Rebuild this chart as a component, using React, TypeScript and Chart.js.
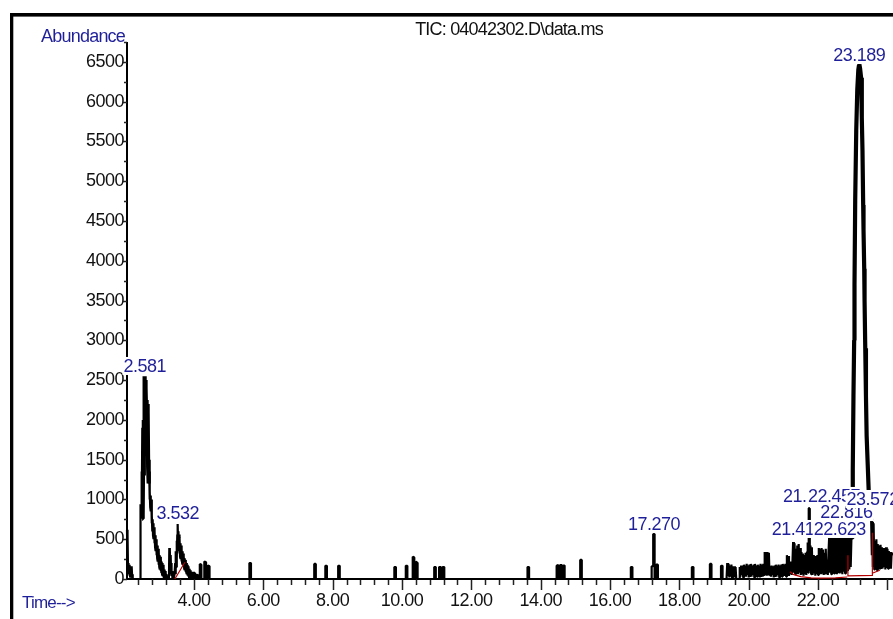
import { useEffect, useRef } from "react";
import { Chart, registerables } from "chart.js";

Chart.register(...registerables);

// ---------------- data ----------------
const titleText = "TIC: 04042302.D\\data.ms";
const yAxisTitle = "Abundance";
const xAxisTitle = "Time-->";

const xMin = 2.07;
const xMax = 24.16;
const yMax = 6750;
const xTickValues = [4, 6, 8, 10, 12, 14, 16, 18, 20, 22];
const yTickValues = [0, 500, 1000, 1500, 2000, 2500, 3000, 3500, 4000, 4500, 5000, 5500, 6000, 6500];
const xMinorStep = 0.4;
const yMinorStep = 250;

// total ion chromatogram [time (min), abundance]
const ticTrace: [number, number][] = [
  // solvent front
  [2.07, 620], [2.075, 150], [2.08, 600], [2.09, 180], [2.095, 560], [2.1, 120], [2.11, 200], [2.12, 60],
  [2.13, 180], [2.14, 40], [2.15, 170], [2.16, 30], [2.17, 150], [2.18, 20], [2.19, 160], [2.2, 30],
  [2.21, 150], [2.22, 20], [2.23, 60], [2.24, 0],
  // peak 2.581
  [2.45, 0], [2.455, 940], [2.465, 760], [2.475, 920], [2.485, 780], [2.495, 900], [2.505, 760], [2.515, 880],
  [2.52, 1350], [2.53, 800], [2.54, 1900], [2.55, 1300], [2.56, 2000], [2.567, 1600], [2.575, 2550], [2.582, 2300],
  [2.59, 2500], [2.6, 2200], [2.61, 2400], [2.62, 2100], [2.63, 2250], [2.64, 1950], [2.65, 2200], [2.66, 1900],
  [2.67, 2100], [2.68, 1400], [2.69, 1500], [2.7, 1200], [2.71, 1350], [2.72, 1000], [2.73, 1100], [2.74, 900],
  [2.75, 1050], [2.76, 850], [2.77, 1000], [2.78, 700], [2.79, 800], [2.8, 600], [2.81, 750], [2.82, 550],
  [2.83, 700], [2.84, 500], [2.85, 650], [2.86, 450], [2.87, 600], [2.88, 400], [2.89, 550], [2.9, 350],
  [2.91, 500], [2.92, 300], [2.93, 450], [2.94, 260], [2.95, 420], [2.96, 220], [2.97, 380], [2.98, 180],
  [2.99, 340], [3.0, 150], [3.01, 300], [3.02, 120], [3.03, 280], [3.04, 100], [3.05, 250], [3.06, 80],
  [3.07, 220], [3.08, 60], [3.09, 200], [3.1, 40], [3.11, 180], [3.12, 20], [3.13, 150], [3.14, 0],
  [3.15, 120], [3.16, 0], [3.17, 100], [3.18, 0], [3.19, 80], [3.2, 0], [3.21, 60], [3.22, 0], [3.23, 40], [3.24, 0],
  [3.28, 0], [3.29, 390], [3.3, 150], [3.31, 360], [3.32, 120], [3.33, 300], [3.34, 80], [3.35, 200], [3.36, 40],
  [3.37, 100], [3.38, 0], [3.42, 0],
  // peak 3.532
  [3.44, 60], [3.46, 200], [3.47, 60], [3.48, 350], [3.49, 150], [3.5, 480], [3.51, 250], [3.52, 560],
  [3.527, 350], [3.535, 690], [3.545, 400], [3.55, 600], [3.56, 350], [3.57, 560], [3.58, 320], [3.59, 520],
  [3.6, 280], [3.61, 450], [3.62, 250], [3.63, 420], [3.64, 220], [3.65, 380], [3.66, 200], [3.67, 350],
  [3.68, 180], [3.69, 320], [3.7, 150], [3.71, 290], [3.72, 130], [3.73, 260], [3.74, 110], [3.75, 240],
  [3.76, 90], [3.77, 220], [3.78, 80], [3.79, 200], [3.8, 60], [3.81, 180], [3.82, 40], [3.83, 160],
  [3.84, 30], [3.85, 150], [3.86, 20], [3.87, 130], [3.88, 0], [3.89, 110], [3.9, 0], [3.91, 100], [3.92, 0],
  [3.93, 90], [3.94, 0], [3.97, 30], [3.99, 90], [4.0, 0], [4.03, 80], [4.05, 0], [4.1, 60], [4.13, 0],
  // small spikes
  [4.17, 0], [4.17, 190], [4.215, 180], [4.215, 0], [4.3, 0], [4.3, 220], [4.35, 210], [4.35, 0],
  [4.4, 0], [4.4, 170], [4.45, 160], [4.45, 0],
  [5.6, 0], [5.6, 200], [5.645, 200], [5.645, 0],
  [7.47, 0], [7.47, 190], [7.515, 190], [7.515, 0],
  [7.79, 0], [7.79, 165], [7.835, 165], [7.835, 0],
  [8.16, 0], [8.16, 165], [8.205, 165], [8.205, 0],
  [9.78, 0], [9.78, 150], [9.825, 150], [9.825, 0],
  [10.11, 0], [10.11, 165], [10.155, 165], [10.155, 0],
  [10.31, 0], [10.31, 280], [10.355, 270], [10.355, 0], [10.4, 0], [10.4, 220], [10.45, 200], [10.45, 0],
  [10.93, 0], [10.93, 150], [10.975, 150], [10.975, 0],
  [11.07, 0], [11.07, 150], [11.12, 150], [11.12, 0], [11.17, 0], [11.17, 150], [11.22, 150], [11.22, 0],
  [13.62, 0], [13.62, 150], [13.665, 150], [13.665, 0],
  [14.46, 0], [14.46, 165], [14.51, 175], [14.51, 0], [14.56, 0], [14.56, 175], [14.61, 175], [14.61, 0],
  [14.65, 0], [14.65, 170], [14.69, 170], [14.69, 0],
  [15.14, 0], [15.14, 240], [15.185, 240], [15.185, 0],
  [16.6, 0], [16.6, 150], [16.645, 150], [16.645, 0],
  // peak 17.270
  [17.2, 0], [17.2, 160], [17.245, 160], [17.245, 565], [17.285, 565], [17.285, 0], [17.33, 0], [17.33, 180],
  [17.38, 180], [17.38, 0],
  [18.36, 0], [18.36, 150], [18.405, 150], [18.405, 0],
  [18.88, 0], [18.88, 190], [18.925, 190], [18.925, 0],
  [19.2, 0], [19.2, 165], [19.245, 165], [19.245, 0],
  // dense late region
  [19.36, 0], [19.38, 200], [19.4, 40], [19.42, 190], [19.44, 20], [19.46, 170], [19.48, 30], [19.5, 180],
  [19.52, 10], [19.54, 160], [19.56, 40], [19.58, 160], [19.6, 20], [19.62, 150], [19.64, 0], [19.72, 0],
  [19.74, 150], [19.76, 30], [19.78, 170], [19.8, 50], [19.82, 160], [19.84, 20], [19.86, 180], [19.88, 40],
  [19.9, 170], [19.92, 30], [19.94, 190], [19.96, 50], [19.98, 170], [20.0, 20], [20.02, 180], [20.04, 40],
  [20.06, 190], [20.08, 30], [20.1, 170], [20.12, 50], [20.14, 180], [20.16, 20], [20.18, 190], [20.2, 40],
  [20.22, 170], [20.24, 30], [20.26, 180], [20.28, 50], [20.3, 170], [20.32, 20], [20.34, 190], [20.36, 40],
  [20.38, 180], [20.4, 30], [20.42, 190], [20.44, 50], [20.46, 340], [20.48, 60], [20.5, 340], [20.52, 40],
  [20.54, 340], [20.56, 60], [20.58, 330], [20.6, 40], [20.62, 160], [20.64, 30], [20.66, 170], [20.68, 50],
  [20.7, 160], [20.72, 20], [20.74, 170], [20.76, 40], [20.78, 180], [20.8, 30], [20.82, 170], [20.84, 50],
  [20.86, 180], [20.88, 20], [20.9, 170], [20.92, 40], [20.94, 180], [20.96, 30], [20.98, 190], [21.0, 50],
  [21.02, 180], [21.04, 40], [21.06, 190], [21.08, 30], [21.1, 300], [21.12, 60], [21.14, 290], [21.16, 40],
  [21.18, 200], [21.2, 60], [21.22, 220], [21.24, 50], [21.26, 200], [21.28, 465], [21.3, 80], [21.32, 450],
  [21.34, 60], [21.36, 380], [21.38, 70], [21.4, 420], [21.42, 60], [21.44, 440], [21.46, 80], [21.48, 390],
  [21.5, 50], [21.52, 340], [21.54, 70], [21.56, 320], [21.58, 40], [21.6, 300], [21.62, 60], [21.64, 330],
  [21.66, 50], [21.68, 340], [21.7, 460], [21.72, 80], [21.73, 890], [21.75, 890], [21.76, 100], [21.78, 420],
  [21.8, 60], [21.82, 400], [21.84, 50], [21.86, 300], [21.88, 70], [21.9, 280], [21.92, 40], [21.94, 290],
  [21.96, 60], [21.98, 300], [22.0, 50], [22.02, 390], [22.04, 70], [22.06, 380], [22.08, 60], [22.1, 390],
  [22.12, 80], [22.14, 370], [22.16, 50], [22.18, 330], [22.2, 70], [22.22, 380], [22.24, 60], [22.26, 240],
  [22.28, 50], [22.3, 330], [22.32, 530], [22.34, 80], [22.36, 520], [22.38, 60], [22.4, 530], [22.42, 90],
  [22.44, 560], [22.46, 70], [22.48, 520], [22.5, 80], [22.52, 540], [22.54, 60], [22.56, 530], [22.58, 90],
  [22.6, 520], [22.62, 70], [22.64, 540], [22.66, 80], [22.68, 520], [22.7, 60], [22.72, 540], [22.74, 90],
  [22.76, 530], [22.78, 70], [22.8, 560], [22.82, 80], [22.84, 540], [22.86, 100], [22.88, 540], [22.9, 120],
  [22.92, 550], [22.94, 150], [22.96, 500],
  // main peak 23.189
  [22.99, 520], [23.0, 1370], [23.02, 2300], [23.04, 3000], [23.05, 3700], [23.07, 4760], [23.1, 5640],
  [23.13, 6150], [23.16, 6400], [23.18, 6460], [23.19, 6470], [23.21, 6420], [23.24, 6300], [23.26, 5800],
  [23.28, 5390], [23.3, 4700], [23.31, 4390], [23.33, 3900], [23.34, 3500], [23.36, 2900], [23.38, 2300],
  [23.4, 1800], [23.43, 1450], [23.46, 1100], [23.5, 850], [23.53, 740], [23.55, 300],
  // tail
  [23.565, 720], [23.58, 150], [23.6, 700], [23.62, 120], [23.64, 480], [23.66, 130], [23.68, 500],
  [23.7, 110], [23.72, 440], [23.74, 140], [23.76, 420], [23.78, 120], [23.8, 430], [23.82, 140], [23.84, 400],
  [23.86, 130], [23.88, 390], [23.9, 150], [23.92, 380], [23.94, 120], [23.96, 400], [23.98, 140], [24.0, 380],
  [24.02, 130], [24.04, 350], [24.06, 150], [24.08, 340], [24.1, 130], [24.12, 330], [24.16, 300],
];

// time windows drawn with a heavier stroke (noisy peak bodies)
const heavyWindows: [number, number][] = [[2.5, 2.7], [22.98, 23.54]];

// integration baselines (red)
const baseline1: [number, number][] = [[3.45, 0], [3.74, 210]];
const baseline2: [number, number][] = [[21.19, 90], [21.3, 55], [21.5, 30], [21.8, 15], [22.1, 12], [22.5, 15], [22.84, 25]];
const baseline3: [number, number][] = [[22.86, 300], [22.86, 40], [23.565, 45], [23.565, 580]];
const baseline4: [number, number][] = [[23.58, 75], [23.78, 110]];

// peak labels: text, retention time, anchor abundance (drawing order matters)
const peakLabels: { text: string; t: number; v: number }[] = [
  { text: "2.581", t: 2.581, v: 2552 },
  { text: "3.532", t: 3.532, v: 700 },
  { text: "17.270", t: 17.27, v: 565 },
  { text: "23.189", t: 23.189, v: 6461 },
  { text: "21.741", t: 21.741, v: 918 },
  { text: "22.457", t: 22.457, v: 918 },
  { text: "22.816", t: 22.816, v: 716 },
  { text: "23.572", t: 23.572, v: 880 },
  { text: "21.414", t: 21.414, v: 503 },
  { text: "22.623", t: 22.623, v: 503 },
];

// ---------------- drawing ----------------
const FONT = '"Liberation Sans", Arial, Helvetica, sans-serif';
const BLUE = "#1f1f9a";

const decor = {
  id: "decor",
  beforeDraw(chart: any) {
    chart.ctx.letterSpacing = "-0.5px";
  },
  beforeDatasetsDraw(chart: any) {
    const { ctx, chartArea: a, scales } = chart;
    const x = scales.x;
    const y = scales.y;
    ctx.save();
    ctx.strokeStyle = "#000";
    ctx.lineWidth = 2;
    ctx.beginPath();
    ctx.moveTo(a.left, a.top);
    ctx.lineTo(a.left, a.bottom);
    ctx.lineTo(a.right, a.bottom);
    ctx.stroke();
    ctx.lineWidth = 1.5;
    ctx.strokeStyle = "#222";
    ctx.beginPath();
    for (let k = 1; k * xMinorStep <= xMax; k++) {
      const t = k * xMinorStep;
      if (t < xMin) continue;
      const px = Math.round(x.getPixelForValue(t)) + 0.5;
      const major = k % 5 === 0;
      ctx.moveTo(px, a.bottom);
      ctx.lineTo(px, a.bottom + (major ? 11 : 6));
    }
    for (let v = 0; v <= yMax; v += yMinorStep) {
      const py = Math.round(y.getPixelForValue(v)) + 0.5;
      ctx.moveTo(a.left, py);
      ctx.lineTo(a.left - (v % 500 === 0 ? 4 : 3), py);
    }
    ctx.stroke();
    ctx.restore();
  },
  afterDraw(chart: any) {
    const { ctx, scales } = chart;
    const x = scales.x;
    const y = scales.y;
    ctx.save();
    // title
    ctx.letterSpacing = "-0.8px";
    ctx.font = `18px ${FONT}`;
    ctx.fillStyle = "#111";
    ctx.textAlign = "center";
    ctx.textBaseline = "alphabetic";
    ctx.fillText(titleText, 509, 35);
    // axis titles
    ctx.fillStyle = BLUE;
    ctx.textAlign = "right";
    ctx.fillText(yAxisTitle, 125, 41.5);
    ctx.textAlign = "left";
    ctx.font = `17px ${FONT}`;
    ctx.fillText(xAxisTitle, 22, 608);
    // peak labels
    ctx.letterSpacing = "-0.5px";
    ctx.font = `18px ${FONT}`;
    ctx.textAlign = "center";
    for (const p of peakLabels) {
      const px = x.getPixelForValue(p.t);
      const py = y.getPixelForValue(p.v) - 4;
      const w = ctx.measureText(p.text).width;
      ctx.fillStyle = "#fff";
      ctx.fillRect(px - w / 2 - 1, py - 15, w + 2, 18);
      ctx.fillStyle = BLUE;
      ctx.fillText(p.text, px, py);
    }
    // frame
    ctx.fillStyle = "#000";
    ctx.fillRect(10, 13, 3.3, 619);
    ctx.fillRect(10, 13, 900, 3.6);
    ctx.restore();
  },
};

const toXY = (arr: [number, number][]) => arr.map(([t, v]) => ({ x: t, y: v }));

export default function App() {
  const ref = useRef<HTMLCanvasElement | null>(null);
  useEffect(() => {
    document.body.style.margin = "0";
    if (!ref.current) return;
    const red = (d: [number, number][]) => ({
      data: toXY(d),
      borderColor: "#b30000",
      borderWidth: 1.2,
      pointRadius: 0,
      tension: 0,
      clip: false as any,
      order: 0,
    });
    const tickFont = { family: FONT, size: 18 };
    const chart = new Chart(ref.current, {
      type: "line",
      data: {
        datasets: [
          {
            data: toXY(ticTrace),
            borderColor: "#000",
            borderWidth: 2.2,
            pointRadius: 0,
            tension: 0,
            borderJoinStyle: "bevel",
            clip: false as any,
            order: 1,
            segment: {
              borderWidth: (c: any) => {
                const t0 = c.p0.parsed.x;
                const t1 = c.p1.parsed.x;
                for (const [a, b] of heavyWindows) {
                  if (t0 >= a && t1 <= b) return 4.2;
                }
                return 2.2;
              },
            },
          } as any,
          red(baseline1),
          red(baseline2),
          red(baseline3),
          red(baseline4),
        ],
      },
      options: {
        responsive: false,
        animation: false,
        events: [],
        layout: { padding: { top: 42, left: 0, right: 0, bottom: 0 } },
        plugins: { legend: { display: false }, tooltip: { enabled: false }, title: { display: false } },
        scales: {
          x: {
            type: "linear",
            min: xMin,
            max: xMax,
            grid: { display: false, drawTicks: false },
            border: { display: false },
            ticks: {
              font: tickFont,
              color: "#111",
              padding: 11,
              autoSkip: false,
              maxRotation: 0,
              callback: (v: any) => Number(v).toFixed(2),
            },
            afterBuildTicks: (s: any) => {
              s.ticks = xTickValues.map((value) => ({ value }));
            },
            afterFit: (s: any) => {
              s.height = 40;
            },
          },
          y: {
            type: "linear",
            min: 0,
            max: yMax,
            grid: { display: false, drawTicks: false },
            border: { display: false },
            ticks: {
              font: tickFont,
              color: "#111",
              padding: 3,
              autoSkip: false,
              callback: (v: any) => String(v),
            },
            afterBuildTicks: (s: any) => {
              s.ticks = yTickValues.map((value) => ({ value }));
            },
            afterFit: (s: any) => {
              s.width = 127;
            },
          },
        },
      },
      plugins: [decor as any],
    });
    return () => chart.destroy();
  }, []);
  return (
    <div style={{ position: "absolute", left: 0, top: 0, width: 893, height: 619, background: "#fff" }}>
      <canvas ref={ref} width={893} height={619} style={{ display: "block" }} />
    </div>
  );
}
